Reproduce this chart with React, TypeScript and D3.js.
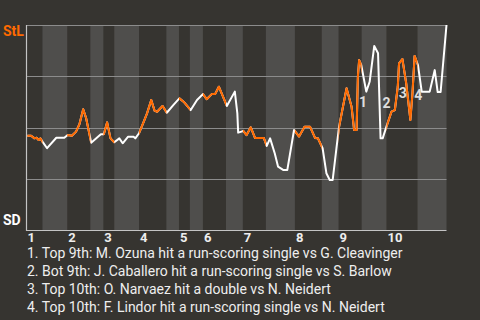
import React from "react";
import * as d3 from "d3";

// Half-inning boundaries in game progress (0-100)
const halfInningBounds = [0, 3.8, 9.7, 15.2, 18.3, 20.9, 26.8, 33.3, 36.3, 38.9, 42.0, 47.5, 51.5, 57.0, 63.9, 70.3, 74.3, 79.8, 85.7, 93.1, 100];
const inningLabels = ["1", "2", "3", "4", "5", "6", "7", "8", "9", "10"];

// Game progress (x) and St. Louis win probability (%)
const gameProgress = [
  0.2, 1.1, 1.9, 2.4, 2.9, 3.3, 3.8, 4.9, 7.1, 9.0,
  9.8, 10.8, 11.8, 12.6, 13.5, 14.2, 15.4, 17.7, 18.4, 19.2,
  20.0, 20.9, 22.1, 22.9, 24.2, 25.5, 25.9, 26.8, 27.9, 28.7,
  29.7, 30.5, 31.1, 32.4, 33.4, 35.0, 36.4, 37.4, 39.1, 40.6,
  42.0, 42.9, 44.1, 44.9, 45.8, 47.7, 49.6, 50.2, 50.4, 51.2,
  51.6, 52.4, 53.4, 54.4, 56.5, 57.2, 58.0, 59.1, 59.9, 61.1,
  62.1, 63.7, 64.9, 66.2, 67.5, 68.7, 69.4, 70.5, 71.4, 72.2,
  72.9, 73.8, 74.4, 76.2, 77.4, 78.0, 78.6, 78.9, 79.2, 79.7,
  80.9, 81.7, 82.8, 83.7, 84.3, 84.8, 85.7, 86.9, 87.7, 88.4,
  88.7, 89.5, 90.4, 91.4, 91.9, 92.4, 93.2, 94.1, 96.0, 97.2,
  97.9, 98.6, 100
];
const stlWinProb = [
  46.0, 46.0, 44.7, 45.0, 43.9, 44.7, 43.1, 39.9, 45.0, 45.0,
  46.3, 46.0, 48.0, 51.6, 58.9, 54.5, 42.6, 46.7, 46.7, 52.5,
  44.7, 42.8, 44.7, 42.3, 45.5, 45.5, 44.7, 47.2, 52.8, 56.9,
  63.4, 58.2, 57.7, 60.5, 57.2, 61.0, 64.2, 62.6, 58.5, 63.4,
  66.3, 63.8, 66.3, 66.3, 69.9, 60.5, 67.5, 56.9, 47.5, 48.0,
  48.4, 46.3, 50.1, 44.9, 44.9, 41.0, 44.7, 37.4, 30.9, 29.3,
  29.3, 48.8, 45.6, 50.4, 50.4, 44.9, 44.7, 39.9, 27.7, 24.4,
  24.4, 39.9, 50.1, 69.1, 60.1, 48.8, 48.8, 74.8, 82.9, 80.5,
  67.5, 72.3, 89.8, 86.2, 44.7, 44.7, 50.4, 57.7, 58.5, 69.9,
  81.3, 83.4, 71.6, 53.7, 66.7, 84.9, 80.5, 67.5, 67.5, 78.0,
  67.3, 67.3, 100
];

const gridValues = [25, 50, 75, 100];

const eventLabels = ["1", "2", "3", "4"];
const eventX = [80.1, 85.7, 89.6, 93.3];
const eventWp = [62.6, 61.8, 66.7, 65.9];

const legendLines = [
  "1. Top 9th: M. Ozuna hit a run-scoring single vs G. Cleavinger",
  "2. Bot 9th: J. Caballero hit a run-scoring single vs S. Barlow",
  "3. Top 10th: O. Narvaez hit a double vs N. Neidert",
  "4. Top 10th: F. Lindor hit a run-scoring single vs N. Neidert",
];

const W = 480;
const H = 320;
const BG = "#363430";
const BAND = "#4f4e4c";
const ORANGE = "#ff6a00";
const FONT = "Roboto, 'Noto Sans', sans-serif";

export default function App() {
  const x = d3.scaleLinear().domain([0, 100]).range([26.5, 446.5]);
  const y = d3.scaleLinear().domain([0, 100]).range([230, 25]);

  const pts: [number, number][] = gameProgress.map((g, i) => [g, stlWinProb[i]]);
  const line = d3
    .line<[number, number]>()
    .x((d) => x(d[0]))
    .y((d) => y(d[1]));
  const path = line(pts) || "";

  const halves = d3.range(halfInningBounds.length - 1);

  return (
    <svg
      width={W}
      height={H}
      style={{ position: "fixed", left: 0, top: 0, display: "block" }}
      fontFamily={FONT}
    >
      <defs>
        <clipPath id="topHalves">
          {halves
            .filter((i) => i % 2 === 0)
            .map((i) => (
              <rect
                key={i}
                x={x(halfInningBounds[i])}
                y={0}
                width={x(halfInningBounds[i + 1]) - x(halfInningBounds[i])}
                height={H}
              />
            ))}
        </clipPath>
      </defs>
      <rect x={0} y={0} width={W} height={H} fill={BG} />
      {halves.map((i) =>
        i % 2 === 1 ? (
          <rect
            key={i}
            x={x(halfInningBounds[i])}
            y={y(100)}
            width={x(halfInningBounds[i + 1]) - x(halfInningBounds[i])}
            height={y(0) - y(100)}
            fill={BAND}
          />
        ) : null
      )}
      {gridValues.map((v) => (
        <line
          key={v}
          x1={x(0)}
          x2={x(100)}
          y1={Math.round(y(v)) + 0.5}
          y2={Math.round(y(v)) + 0.5}
          stroke="#8c8c8c"
          strokeWidth={1}
        />
      ))}
      <line x1={x(0)} x2={x(0)} y1={y(100)} y2={y(0) + 1} stroke="#c4c4c4" strokeWidth={1.2} />
      <line x1={x(0)} x2={x(100)} y1={y(0) + 0.5} y2={y(0) + 0.5} stroke="#c4c4c4" strokeWidth={1.2} />

      <path d={path} fill="none" stroke="#ffffff" strokeWidth={2} strokeLinejoin="round" />
      <path
        d={path}
        fill="none"
        stroke={ORANGE}
        strokeWidth={2}
        strokeLinejoin="round"
        clipPath="url(#topHalves)"
      />

      {eventLabels.map((t, i) => (
        <text
          key={t}
          x={x(eventX[i])}
          y={y(eventWp[i])}
          textAnchor="middle"
          dominantBaseline="central"
          fontSize={14}
          fontWeight="bold"
          fill="#dddddd"
        >
          {t}
        </text>
      ))}

      <text x={3} y={36} fontSize={14} fontWeight="bold" fill={ORANGE}>
        StL
      </text>
      <text x={3} y={225} fontSize={14} fontWeight="bold" fill="#ffffff">
        SD
      </text>

      {inningLabels.map((t, i) => (
        <text
          key={t}
          x={x(halfInningBounds[i * 2]) + 1}
          y={242}
          fontSize={13}
          fontWeight="bold"
          fill="#eeeeee"
        >
          {t}
        </text>
      ))}

      {legendLines.map((t, i) => (
        <text key={i} x={27} y={258 + i * 18} fontSize={14} fill="#eeeeee">
          {t}
        </text>
      ))}
    </svg>
  );
}
